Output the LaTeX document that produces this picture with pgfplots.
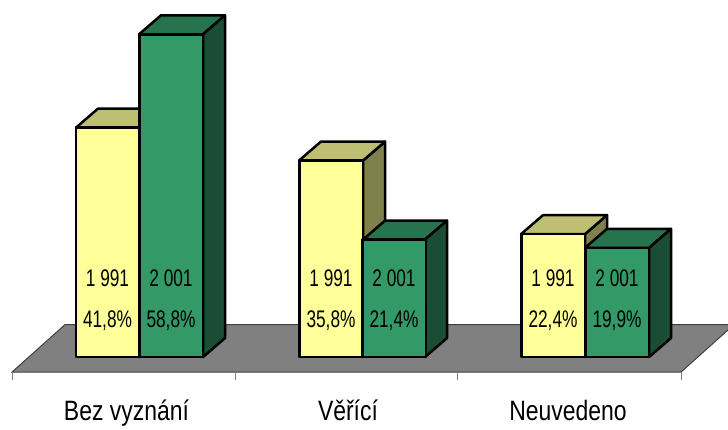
\documentclass[border=0pt]{standalone}
\usepackage{pgfplots}
\pgfplotsset{compat=1.18}
\usepackage{fontspec}
\setmainfont[FakeStretch=0.82]{Liberation Sans}
\newfontfamily\narrowlab[FakeStretch=0.72]{Liberation Sans}
\definecolor{yfront}{HTML}{FFFF99}
\definecolor{ytop}{HTML}{BFBF73}
\definecolor{yside}{HTML}{80804D}
\definecolor{gfront}{HTML}{339966}
\definecolor{gtop}{HTML}{26734D}
\definecolor{gside}{HTML}{1A4D33}
\definecolor{floorc}{HTML}{808080}
\begin{document}
\begin{tikzpicture}
\begin{axis}[
  scale only axis, width=728pt, height=426pt,
  xmin=0, xmax=728, ymin=-12.57, ymax=65.03,
  axis line style={draw=none},
  ytick=\empty,
  xtick={126.5,348,568},
  xticklabels={Bez vyznání,Věřící,Neuvedeno},
  major tick length=0pt,
  xticklabel style={font=\fontsize{28}{30}\selectfont, anchor=base, yshift=6pt},
  bar3/.style={draw=black, line width=2.5pt, line join=round},
]
% floor and ticks
\addplot[fill=floorc, draw=black!75, line width=1pt] coordinates {(12,-2.73) (65,5.92) (734,5.92) (681,-2.73)} --cycle;
\addplot[draw=floorc, line width=1pt] coordinates {(12,-2.73) (12,-4.19)};
\addplot[draw=floorc, line width=1pt] coordinates {(235.5,-2.73) (235.5,-4.19)};
\addplot[draw=floorc, line width=1pt] coordinates {(457.5,-2.73) (457.5,-4.19)};
\addplot[draw=floorc, line width=1pt] coordinates {(681,-2.73) (681,-4.19)};
% 1991 sides and tops
\addplot[bar3, fill=yside] coordinates {(139,0) (161,3.46) (161,45.26) (139,41.8)} --cycle;
\addplot[bar3, fill=yside] coordinates {(363,0) (385,3.46) (385,39.26) (363,35.8)} --cycle;
\addplot[bar3, fill=yside] coordinates {(585,0) (607,3.46) (607,25.86) (585,22.4)} --cycle;
\addplot[bar3, fill=ytop] coordinates {(76,41.8) (98,45.26) (161,45.26) (139,41.8)} --cycle;
\addplot[bar3, fill=ytop] coordinates {(299,35.8) (321,39.26) (385,39.26) (363,35.8)} --cycle;
\addplot[bar3, fill=ytop] coordinates {(521,22.4) (543,25.86) (607,25.86) (585,22.4)} --cycle;
% 1991 fronts
\addplot[ybar, bar width=63.5pt, bar shift=0pt, bar3, fill=yfront] coordinates {(107.5,41.8) (331,35.8) (553,22.4)};
% 2001 tops and sides
\addplot[bar3, fill=gtop] coordinates {(139,58.8) (161,62.26) (225,62.26) (203,58.8)} --cycle;
\addplot[bar3, fill=gtop] coordinates {(363,21.4) (385,24.86) (447,24.86) (425,21.4)} --cycle;
\addplot[bar3, fill=gtop] coordinates {(585,19.9) (607,23.36) (671,23.36) (649,19.9)} --cycle;
\addplot[bar3, fill=gside] coordinates {(203,0) (225,3.46) (225,62.26) (203,58.8)} --cycle;
\addplot[bar3, fill=gside] coordinates {(425,0) (447,3.46) (447,24.86) (425,21.4)} --cycle;
\addplot[bar3, fill=gside] coordinates {(649,0) (671,3.46) (671,23.36) (649,19.9)} --cycle;
% 2001 fronts
\addplot[ybar, bar width=63.5pt, bar shift=0pt, bar3, fill=gfront] coordinates {(171,58.8) (394,21.4) (617,19.9)};
% labels
\def\lf{\narrowlab\fontsize{24}{26}\selectfont}
\node[font=\lf] at (axis cs:107.5,14.39) {1 991};
\node[font=\lf] at (axis cs:171,14.39) {2 001};
\node[font=\lf] at (axis cs:331,14.39) {1 991};
\node[font=\lf] at (axis cs:394,14.39) {2 001};
\node[font=\lf] at (axis cs:553,14.39) {1 991};
\node[font=\lf] at (axis cs:617,14.39) {2 001};
\node[font=\lf] at (axis cs:107.5,6.56) {41,8\%};
\node[font=\lf] at (axis cs:171,6.56) {58,8\%};
\node[font=\lf] at (axis cs:331,6.56) {35,8\%};
\node[font=\lf] at (axis cs:394,6.56) {21,4\%};
\node[font=\lf] at (axis cs:553,6.56) {22,4\%};
\node[font=\lf] at (axis cs:617,6.56) {19,9\%};
\end{axis}
\end{tikzpicture}
\end{document}
